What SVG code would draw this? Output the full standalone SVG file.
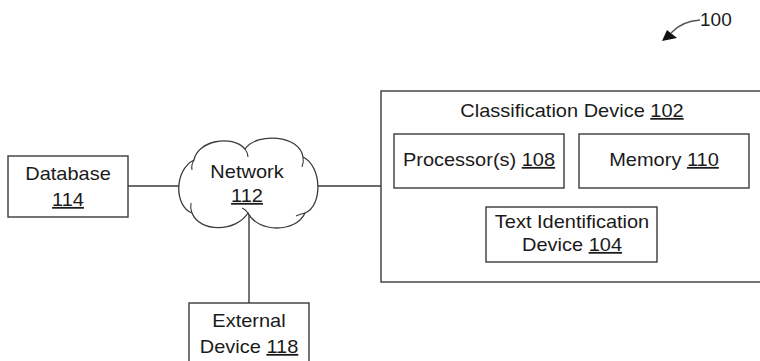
<svg xmlns="http://www.w3.org/2000/svg" width="760" height="361" viewBox="0 0 760 361">
  <defs>
    <style>
      .box { fill: #ffffff; stroke: #3a3a3a; stroke-width: 1.4; }
      .wire { fill: none; stroke: #3a3a3a; stroke-width: 1.4; }
      .cloud { fill: #ffffff; stroke: #3a3a3a; stroke-width: 1.3; }
      .curl { fill: none; stroke: #3a3a3a; stroke-width: 1.1; }
      .lbl { font-family: "Liberation Sans", Arial, sans-serif; font-size: 17.7px; fill: #1a1a1a; text-anchor: middle; }
      .ref { text-decoration: underline; }
      .num { font-family: "Liberation Sans", Arial, sans-serif; font-size: 19px; fill: #1a1a1a; }
    </style>
  </defs>

  <!-- connectors -->
  <g id="connectors">
    <line class="wire" x1="128" y1="186" x2="180" y2="186"/>
    <line class="wire" x1="316" y1="186" x2="381" y2="186"/>
    <line class="wire" x1="249" y1="214" x2="249" y2="303"/>
  </g>

  <!-- system reference numeral -->
  <g id="ref-100">
    <path d="M700,20 Q682,21 671,33" fill="none" stroke="#555" stroke-width="1.3"/>
    <polygon points="662,41 667,30 677,38" fill="#111"/>
    <text class="num" x="700" y="26">100</text>
  </g>

  <g id="database-114">
    <rect class="box" x="8" y="156" width="120" height="61"/>
    <text class="lbl" transform="translate(68,180) scale(1.13,1)">Database</text>
    <text class="lbl" transform="translate(68,206) scale(1.13,1)"><tspan class="ref">114</tspan></text>
  </g>

  <g id="network-112">
    <path class="cloud" d="M248,213 C236,232 200,233 192,213 C174,206 174,170 194,160 C197,141 232,134 245,149 C257,132 300,135 303,157 C322,166 323,206 305,213 C296,233 258,233 248,213 Z"/>
    <path class="curl" d="M194,160 Q191,165 192,170"/>
    <path class="curl" d="M245,149 Q248,153 248,157"/>
    <path class="curl" d="M303,157 Q304,162 302,167"/>
    <path class="curl" d="M305,213 Q300,214 296,216"/>
    <path class="curl" d="M248,213 Q245,209 242,208"/>
    <path class="curl" d="M192,213 Q190,208 191,203"/>
    <text class="lbl" transform="translate(247,178) scale(1.13,1)">Network</text>
    <text class="lbl" transform="translate(247,202) scale(1.13,1)"><tspan class="ref">112</tspan></text>
  </g>

  <g id="external-device-118">
    <rect class="box" x="189" y="303" width="120" height="70"/>
    <text class="lbl" transform="translate(249,327) scale(1.13,1)">External</text>
    <text class="lbl" transform="translate(249,353) scale(1.13,1)">Device <tspan class="ref">118</tspan></text>
  </g>

  <g id="classification-device-102">
    <rect class="box" x="381" y="91" width="400" height="191"/>
    <text class="lbl" transform="translate(572,117) scale(1.13,1)">Classification Device <tspan class="ref">102</tspan></text>
  </g>

  <g id="processors-108">
    <rect class="box" x="394" y="134" width="170" height="54"/>
    <text class="lbl" transform="translate(479,166) scale(1.13,1)">Processor(s) <tspan class="ref">108</tspan></text>
  </g>

  <g id="memory-110">
    <rect class="box" x="579" y="134" width="170" height="54"/>
    <text class="lbl" transform="translate(664,166) scale(1.13,1)">Memory <tspan class="ref">110</tspan></text>
  </g>

  <g id="text-identification-device-104">
    <rect class="box" x="486" y="207" width="171" height="55"/>
    <text class="lbl" transform="translate(572,228) scale(1.13,1)">Text Identification</text>
    <text class="lbl" transform="translate(572,251) scale(1.13,1)">Device <tspan class="ref">104</tspan></text>
  </g>
</svg>
